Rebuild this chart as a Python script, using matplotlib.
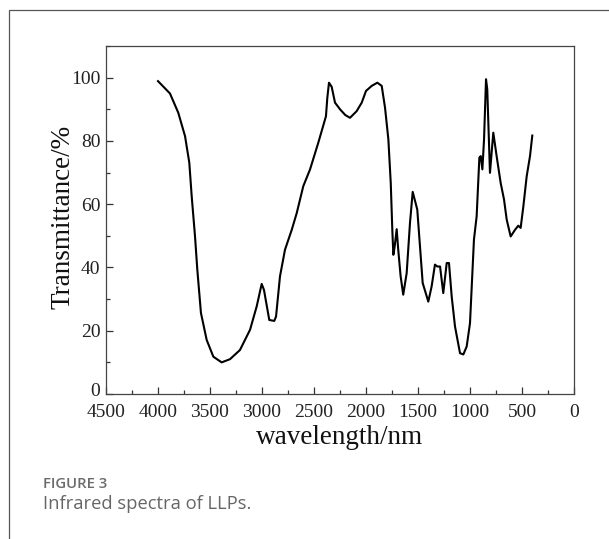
import matplotlib
matplotlib.use("Agg")
import matplotlib.pyplot as plt
from matplotlib.patches import Rectangle
from matplotlib.ticker import MultipleLocator
from matplotlib.transforms import ScaledTranslation

wavenumber = [4000, 3885, 3805, 3740, 3699, 3676, 3644, 3622, 3587, 3532, 3468, 3388,
              3308, 3212, 3115, 3051, 3003, 2981, 2930, 2882, 2865, 2827, 2779, 2714,
              2666, 2603, 2538, 2459, 2385, 2372, 2356, 2330, 2298, 2250, 2200, 2154,
              2090, 2041, 2000, 1945, 1891, 1849, 1817, 1785, 1762, 1747, 1737, 1724,
              1705, 1690, 1667, 1642, 1609, 1577, 1551, 1507, 1481, 1455, 1401, 1369,
              1337, 1314, 1288, 1257, 1224, 1202, 1176, 1144, 1096, 1064, 1032, 1000,
              962, 936, 910, 897, 881, 865, 846, 834, 808, 776, 744, 705, 673, 647,
              609, 567, 536, 513, 487, 455, 423, 401]
transmittance = [98.9, 95.0, 88.9, 81.5, 73.1, 62.5, 49.8, 39.3, 25.6, 17.1, 11.8, 10.0,
                 11.0, 13.9, 20.3, 27.7, 34.8, 32.9, 23.4, 23.1, 24.5, 37.2, 45.6, 51.9,
                 57.2, 65.7, 71.0, 79.4, 87.8, 93.6, 98.4, 97.1, 92.1, 90.0, 88.2, 87.3,
                 89.4, 92.1, 95.8, 97.4, 98.4, 97.4, 90.5, 80.5, 66.7, 51.9, 44.0, 46.7,
                 52.1, 45.6, 37.2, 31.4, 38.2, 54.1, 63.9, 58.3, 46.7, 35.1, 29.2, 34.0,
                 40.9, 40.3, 40.3, 31.9, 41.4, 41.4, 30.8, 21.3, 12.9, 12.5, 15.0, 22.4,
                 48.8, 56.2, 74.7, 75.2, 71.0, 80.5, 99.5, 96.3, 69.9, 82.6, 75.2, 66.7,
                 61.5, 55.1, 49.8, 51.9, 53.2, 52.5, 59.3, 68.8, 75.2, 81.7]

x_ticks = [4500, 4000, 3500, 3000, 2500, 2000, 1500, 1000, 500, 0]
y_ticks = [0, 20, 40, 60, 80, 100]

W, H = 609, 539
fig = plt.figure(figsize=(W / 100, H / 100), dpi=100)

# outer frame
fig.patches.append(Rectangle((9 / W, -0.1), 1.2, 1 - 10 / H + 0.1, transform=fig.transFigure,
                             fill=False, edgecolor="#555555", linewidth=0.9))

ax = fig.add_axes([106 / W, 1 - 394 / H, (574 - 106) / W, (394 - 46) / H])
ax.plot(wavenumber, transmittance, color="black", linewidth=1.5)
ax.set_xlim(4500, 0)
ax.set_ylim(0, 110)
ax.set_xticks(x_ticks)
ax.set_yticks(y_ticks)
ax.xaxis.set_minor_locator(MultipleLocator(250))
ax.yaxis.set_minor_locator(MultipleLocator(10))
serif = "Liberation Serif"
ax.tick_params(which="both", direction="in", color="#333333", width=0.9)
ax.tick_params(which="major", length=5, labelsize=14)
ax.tick_params(which="minor", length=3)
ax.tick_params(axis="y", which="major", pad=4)
ax.tick_params(axis="x", which="major", pad=7)
for lbl in ax.get_xticklabels() + ax.get_yticklabels():
    lbl.set_fontfamily(serif)
    lbl.set_color("#222222")
# lift the "0" label of the y axis slightly, as in the reference
zero_lbl = ax.get_yticklabels()[0]
zero_lbl.set_transform(zero_lbl.get_transform() + ScaledTranslation(0, 4 / 100, fig.dpi_scale_trans))

for s in ax.spines.values():
    s.set_color("#444444")
    s.set_linewidth(0.9)
ax.set_xlabel("wavelength/nm", fontsize=19.5, fontfamily=serif, color="#111111")
ax.set_ylabel("Transmittance/%", fontsize=19.5, fontfamily=serif, color="#111111")
ax.xaxis.set_label_coords(0.5, (394 - 438) / (394 - 46))
ax.yaxis.set_label_coords((63 - 106) / 468, 0.5 + (220 - 217) / 348)
ax.xaxis.label.set_va("center")
ax.yaxis.label.set_va("center")

fig.text(43 / W, 1 - 488 / H, "FIGURE 3", fontsize=10.7, fontfamily="Open Sans",
         fontweight="semibold", color="#6b6b6b", va="baseline", ha="left")
fig.text(43 / W, 1 - 509 / H, "Infrared spectra of LLPs.", fontsize=13.2,
         fontfamily="Open Sans", color="#666666", va="baseline", ha="left")

fig.savefig("out.png", dpi=100)
